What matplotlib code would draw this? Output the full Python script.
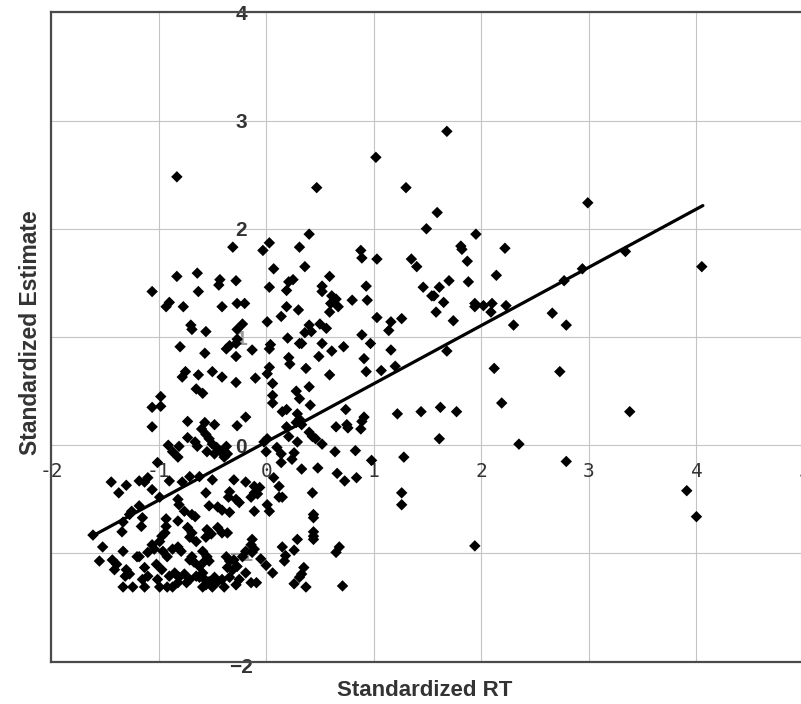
import matplotlib.pyplot as plt
import numpy as np

# observations (standardized RT, standardized estimate)
pts = [
    # upper sparse
    (-0.83, 2.48), (0.47, 2.38), (1.02, 2.66), (1.68, 2.90), (1.30, 2.38), (2.99, 2.24),
    (1.59, 2.15), (1.49, 2.00), (1.95, 1.95), (1.81, 1.84), (2.22, 1.82),
    # upper left cluster
    (-0.31, 1.83), (-0.83, 1.56), (-0.64, 1.59), (-0.43, 1.53), (-0.44, 1.48), (-0.28, 1.52),
    (-1.06, 1.42), (-0.63, 1.42), (-0.90, 1.32), (-0.93, 1.28), (-0.77, 1.28), (-0.41, 1.28),
    (-0.27, 1.31), (-0.20, 1.31), (-0.70, 1.11), (-0.69, 1.07), (-0.56, 1.05), (-0.22, 1.12),
    (-0.27, 1.07), (-0.27, 0.98), (-0.28, 0.94), (-0.34, 0.92), (-0.37, 0.89), (-0.80, 0.91),
    (-0.57, 0.85),
    # upper middle cluster
    (0.40, 1.95), (0.03, 1.87), (-0.03, 1.80), (0.31, 1.83), (0.88, 1.80), (0.89, 1.73),
    (1.03, 1.72), (0.07, 1.63), (0.36, 1.65), (0.59, 1.56), (0.21, 1.51), (0.25, 1.53),
    (0.03, 1.46), (0.52, 1.47), (0.52, 1.42), (0.93, 1.47), (0.19, 1.43), (0.61, 1.38),
    (0.65, 1.35), (0.60, 1.31), (0.67, 1.28), (0.59, 1.23), (0.80, 1.34), (0.94, 1.34),
    (0.19, 1.28), (0.30, 1.25), (0.14, 1.19), (0.01, 1.14), (0.40, 1.11), (0.50, 1.12),
    (0.56, 1.08), (0.36, 1.04), (0.42, 1.05), (1.03, 1.18), (1.16, 1.14), (1.14, 1.06),
    (1.26, 1.17), (0.20, 0.99), (0.89, 1.02), (0.31, 0.94), (0.33, 0.94), (0.04, 0.93),
    (0.03, 0.89), (0.52, 0.94), (0.72, 0.91), (0.97, 0.94), (1.16, 0.88), (0.61, 0.87),
    (-0.13, 0.88),
    # middle left
    (-0.28, 0.82), (-0.75, 0.68), (-0.78, 0.63), (-0.63, 0.65), (-0.50, 0.68), (-0.41, 0.63),
    (-0.28, 0.58), (-0.65, 0.52), (-0.59, 0.48), (-0.98, 0.45), (-1.06, 0.35), (-0.98, 0.36),
    (-0.73, 0.22), (-0.57, 0.21), (-0.48, 0.19), (-0.60, 0.15), (-0.56, 0.10), (-0.53, 0.06),
    (-0.50, 0.01), (-0.46, -0.02), (-0.42, -0.06), (-0.39, -0.11), (-0.48, -0.08), (-0.55, -0.06),
    (-1.06, 0.17), (-0.27, 0.18), (-0.19, 0.26), (-0.73, 0.07), (-0.66, 0.03), (-0.64, -0.01),
    (-0.91, 0.00), (-0.81, -0.01), (-0.87, -0.06), (-0.82, -0.11), (-0.37, -0.01), (-0.36, -0.08),
    (-1.01, -0.16),
    # middle
    (0.21, 0.81), (0.22, 0.75), (0.03, 0.72), (0.01, 0.66), (0.37, 0.71), (0.49, 0.82),
    (0.91, 0.80), (0.93, 0.68), (1.07, 0.69), (1.20, 0.73), (-0.10, 0.62), (0.59, 0.65),
    (0.06, 0.57), (0.28, 0.50), (0.40, 0.54), (0.06, 0.46), (0.06, 0.39), (0.31, 0.43),
    (0.41, 0.37), (0.15, 0.31), (0.19, 0.33), (0.29, 0.29), (0.31, 0.24), (0.28, 0.21),
    (0.33, 0.19), (0.74, 0.33), (0.91, 0.26), (0.89, 0.22), (0.88, 0.15), (1.22, 0.29),
    (0.65, 0.17), (0.75, 0.19), (0.76, 0.16), (0.19, 0.17), (0.21, 0.08), (0.40, 0.12),
    (0.43, 0.08), (0.46, 0.06), (0.01, 0.06), (-0.02, 0.03), (0.00, -0.06), (0.10, -0.02),
    (0.29, 0.03), (0.52, 0.01), (0.64, -0.06), (0.83, -0.05), (0.14, -0.08), (0.14, -0.16),
    (0.26, -0.07), (0.24, -0.13), (0.98, -0.14), (1.28, -0.11), (0.33, -0.22), (0.48, -0.21),
    (0.66, -0.26), (0.84, -0.30), (0.07, -0.30),
    # right sparse
    (1.35, 1.72), (1.40, 1.65), (1.82, 1.81), (1.87, 1.70), (2.14, 1.57), (1.46, 1.46),
    (1.54, 1.38), (1.56, 1.38), (1.61, 1.46), (1.70, 1.52), (1.88, 1.51), (1.65, 1.32),
    (1.58, 1.23), (1.74, 1.15), (1.94, 1.31), (1.94, 1.28), (2.02, 1.29), (2.10, 1.31),
    (2.09, 1.23), (2.23, 1.29), (2.30, 1.11), (2.66, 1.22), (2.79, 1.11), (2.77, 1.52),
    (2.94, 1.63), (3.34, 1.79), (4.05, 1.65), (1.68, 0.87), (2.12, 0.71), (2.73, 0.68),
    (2.19, 0.39), (1.44, 0.31), (1.62, 0.35), (1.77, 0.31), (3.38, 0.31), (1.61, 0.06),
    (2.35, 0.01), (2.79, -0.15), (3.91, -0.42), (1.94, -0.93), (4.00, -0.66),
    # lower middle
    (0.73, -0.33), (-0.11, -0.38), (-0.06, -0.39), (-0.08, -0.45), (-0.11, -0.44), (-0.14, -0.48),
    (0.12, -0.38), (0.12, -0.48), (0.15, -0.48), (0.43, -0.44), (0.01, -0.55), (0.03, -0.61),
    (-0.11, -0.61), (0.44, -0.64), (0.44, -0.67), (0.44, -0.80), (0.44, -0.84), (0.44, -0.87),
    (1.26, -0.44), (1.26, -0.55), (0.29, -0.87), (-0.13, -0.87), (-0.14, -0.92), (-0.11, -0.96),
    (-0.13, -0.99), (0.15, -0.94), (0.26, -0.97), (0.18, -1.02), (0.17, -1.07), (0.68, -0.94),
    (0.65, -0.99), (-0.05, -1.05), (0.00, -1.11), (0.06, -1.18), (0.35, -1.13), (0.33, -1.19),
    (0.31, -1.22), (-0.14, -1.27), (-0.09, -1.27), (0.26, -1.28), (0.37, -1.31), (0.71, -1.30),
    # lower left dense cluster
    (-1.44, -0.34), (-1.37, -0.44), (-1.30, -0.37), (-1.18, -0.33), (-1.13, -0.34), (-1.06, -0.41),
    (-0.99, -0.48), (-0.90, -0.33), (-0.78, -0.34), (-0.56, -0.44), (-0.34, -0.43), (-0.35, -0.48),
    (-0.28, -0.50), (-0.25, -0.53), (-0.82, -0.50), (-0.81, -0.55), (-0.76, -0.61), (-0.69, -0.64),
    (-0.66, -0.66), (-1.18, -0.56), (-1.25, -0.61), (-1.27, -0.64), (-0.53, -0.56), (-0.45, -0.57),
    (-0.41, -0.60), (-0.34, -0.62), (-1.15, -0.67), (-1.16, -0.75), (-1.33, -0.71), (-1.34, -0.80),
    (-0.93, -0.68), (-0.82, -0.70), (-0.93, -0.75), (-0.94, -0.81), (-0.97, -0.84), (-0.99, -0.89),
    (-1.06, -0.92), (-1.04, -0.96), (-0.73, -0.76), (-0.69, -0.81), (-0.71, -0.85), (-0.65, -0.89),
    (-0.55, -0.78), (-0.51, -0.82), (-0.56, -0.85), (-0.45, -0.76), (-0.41, -0.81), (-0.36, -0.81),
    (-1.61, -0.83), (-1.52, -0.94), (-1.33, -0.98), (-1.20, -1.03), (-1.18, -1.03), (-1.10, -0.99),
    (-0.96, -0.98), (-0.92, -1.03), (-0.87, -0.96), (-0.82, -0.94), (-0.79, -0.98), (-0.71, -1.06),
    (-0.69, -1.03), (-0.67, -1.08), (-0.59, -0.98), (-0.55, -1.03), (-0.57, -1.07), (-0.53, -1.07),
    (-0.62, -1.12), (-0.59, -1.18), (-0.65, -1.21), (-0.37, -1.03), (-0.34, -1.07), (-0.30, -1.06),
    (-0.27, -1.12), (-0.31, -1.15), (-0.36, -1.13), (-0.22, -1.03), (-0.19, -0.98), (-0.19, -1.18),
    (-1.55, -1.07), (-1.43, -1.06), (-1.39, -1.10), (-1.41, -1.15), (-1.30, -1.15), (-1.27, -1.19),
    (-1.31, -1.21), (-1.13, -1.13), (-1.10, -1.21), (-1.15, -1.24), (-1.02, -1.10), (-0.97, -1.15),
    (-0.90, -1.21), (-0.85, -1.18), (-0.81, -1.22), (-0.76, -1.19), (-0.71, -1.24), (-0.74, -1.27),
    (-0.82, -1.27), (-0.87, -1.31), (-0.92, -1.31), (-0.62, -1.22), (-0.57, -1.24), (-0.53, -1.26),
    (-0.48, -1.22), (-0.56, -1.29), (-0.50, -1.31), (-0.45, -1.26), (-0.41, -1.24), (-0.34, -1.22),
    (-1.33, -1.31), (-1.24, -1.31), (-1.13, -1.31), (-1.01, -1.24), (-0.99, -1.31), (-0.39, -1.31),
    (-0.59, -1.31), (-0.25, -1.24), (-0.28, -1.29),
    (-1.10, -0.30), (-0.71, -0.29), (-0.62, -0.29), (-0.50, -0.32), (-0.30, -0.32), (-0.19, -0.34),
]
rt = [p[0] for p in pts]
estimate = [p[1] for p in pts]

# regression line
fit_slope = 0.538
fit_intercept = 0.03
fit_x = [-1.61, 4.06]

x_tick_vals = [-2, -1, 0, 1, 2, 3, 4, 5]
x_tick_text = ["-2", "-1", "0", "1", "2", "3", "4", "5"]
y_tick_vals = [4, 3, 2, 1, 0, -1, -2]
y_tick_text = ["4", "3", "2", "1", "0", "\u22121", "\u22122"]

fig = plt.figure(figsize=(8.01, 7.04), dpi=100)
ax = fig.add_axes([51 / 801, 42.3 / 704, 753 / 801, 649.4 / 704])
ax.set_xlim(-2, 5)
ax.set_ylim(-2, 4)

ax.set_xticks(x_tick_vals)
ax.set_yticks(y_tick_vals)
ax.tick_params(length=0, labelbottom=False, labelleft=False)
ax.grid(True, color="#c4c4c4", lw=0.8, zorder=0)
ax.set_axisbelow(True)
for side in ["left", "top", "bottom", "right"]:
    ax.spines[side].set_color("#4a4a4a")
    ax.spines[side].set_linewidth(1.6)

# y labels sit inside the plot, next to x=0
for v, t in zip(y_tick_vals, y_tick_text):
    col = "#9a9a9a" if v in (1, -1) else "#333333"
    dy = -0.055 if v == -2 else -0.02
    ax.text(-0.23, v + dy, t, ha="center", va="center", fontsize=15,
            fontweight="bold", color=col, family="Liberation Sans", zorder=1, clip_on=False)

# x labels sit just under the y=0 line
for v, t in zip(x_tick_vals, x_tick_text):
    ax.text(v, -0.245, t, ha="center", va="center", fontsize=14,
            color="#333333", family="DejaVu Sans Mono", zorder=1, clip_on=False)

ax.scatter(rt, estimate, marker="D", s=34, color="black", edgecolors="none", zorder=3)

fx = np.array(fit_x)
ax.plot(fx, fit_slope * fx + fit_intercept, color="black", lw=2.3, zorder=4,
        solid_capstyle="round")

fig.text(425 / 801, 1 - 691 / 704, "Standardized RT", ha="center", va="center",
         fontsize=16, fontweight="bold", color="#333333", family="Liberation Sans")
fig.text(31 / 801, 1 - 333 / 704, "Standardized Estimate", ha="center", va="center",
         rotation=90, fontsize=16.5, fontweight="bold", color="#333333", family="Liberation Sans")

fig.savefig("out.png", dpi=100)
